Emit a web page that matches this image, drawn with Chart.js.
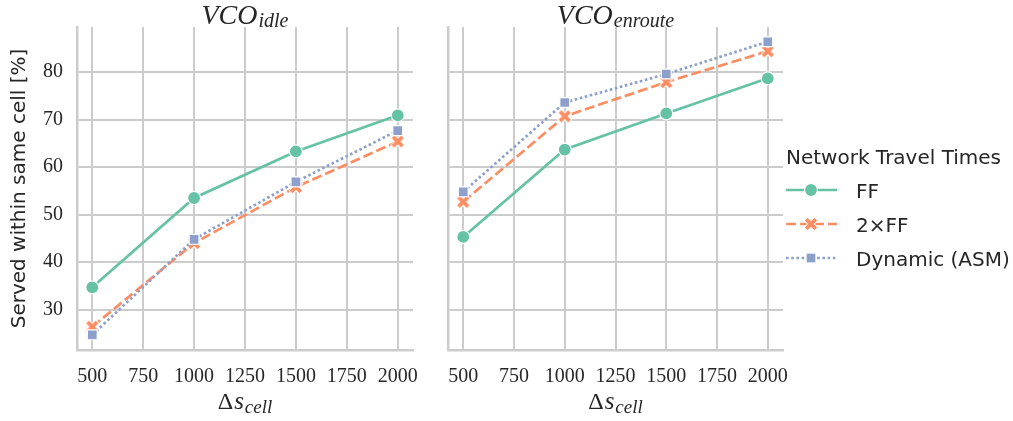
<!DOCTYPE html>
<html><head><meta charset="utf-8">
<script src="https://cdn.jsdelivr.net/npm/chart.js@4"></script>
<style>
html,body{margin:0;padding:0;background:#fff;}
#wrap{position:relative;width:1013px;height:421px;overflow:hidden;}
canvas{position:absolute;top:0;}
</style></head><body>
<div id="wrap">
<canvas id="c1" width="420" height="421" style="left:0;width:420px;height:421px"></canvas>
<canvas id="c2" width="593" height="421" style="left:420px;width:593px;height:421px"></canvas>
</div>
<script>
// ---- data ----
const xValues = [500, 1000, 1500, 2000];
const xTicks = [500, 750, 1000, 1250, 1500, 1750, 2000];
const yTicks = [30, 40, 50, 60, 70, 80];
const seriesNames = ['FF', '2×FF', 'Dynamic (ASM)'];
const idleFF = [34.7, 53.5, 63.3, 70.9];
const idle2FF = [26.4, 44.0, 55.8, 65.4];
const idleDyn = [24.7, 44.8, 56.9, 67.7];
const enrouteFF = [45.3, 63.7, 71.3, 78.7];
const enroute2FF = [52.7, 70.7, 77.9, 84.4];
const enrouteDyn = [54.8, 73.6, 79.6, 86.4];
const panelTitles = [['VCO', 'idle'], ['VCO', 'enroute']];
const xLabel = ['Δ', 's', 'cell'];
const yLabel = 'Served within same cell [%]';
const legendTitle = 'Network Travel Times';

// ---- styles ----
const colors = ['#66c2a5', '#fc8d62', '#8da0cb'];
const dashes = [[], [10, 4], [2.6, 2.6]];
const LW = 2.7;
const TEXT = '#262626';
const GRID = '#cccccc';
const SERIF = '"Liberation Serif", "DejaVu Serif", serif';
const SANS = '"DejaVu Sans", Lato, sans-serif';

function makeX(color) {
  const s = 18, c = document.createElement('canvas');
  c.width = s; c.height = s;
  const g = c.getContext('2d');
  g.translate(s / 2, s / 2);
  g.rotate(Math.PI / 4);
  const a = 7.3, w = 2.4;
  g.beginPath();
  g.moveTo(-w, -a); g.lineTo(w, -a); g.lineTo(w, -w); g.lineTo(a, -w);
  g.lineTo(a, w); g.lineTo(w, w); g.lineTo(w, a); g.lineTo(-w, a);
  g.lineTo(-w, w); g.lineTo(-a, w); g.lineTo(-a, -w); g.lineTo(-w, -w);
  g.closePath();
  g.fillStyle = color; g.fill();
  g.lineWidth = 1; g.strokeStyle = '#ffffff'; g.stroke();
  return c;
}
const xImg = makeX(colors[1]);
const pointStyles = ['circle', xImg, 'rect'];
const pointRadii = [6.5, 7, 7];

function datasets(vals) {
  return vals.map((v, i) => ({
    label: seriesNames[i],
    data: xValues.map((x, j) => ({ x: x, y: v[j] })),
    borderColor: colors[i],
    backgroundColor: colors[i],
    borderWidth: LW,
    borderDash: dashes[i],
    pointStyle: pointStyles[i],
    pointRadius: pointRadii[i],
    pointBorderColor: '#ffffff',
    pointBorderWidth: 1.2,
    tension: 0,
    order: 3 - i
  }));
}

// draws a sequence of [text, font, dy, gap] pieces centred on cx
function drawPieces(ctx, pieces, cx, base) {
  ctx.save();
  ctx.fillStyle = TEXT;
  ctx.textBaseline = 'alphabetic';
  ctx.textAlign = 'left';
  let total = 0;
  const widths = pieces.map(p => { ctx.font = p[1]; const w = ctx.measureText(p[0]).width + (p[3] || 0); total += w; return w; });
  let x = cx - total / 2;
  pieces.forEach((p, i) => { ctx.font = p[1]; ctx.fillText(p[0], x, base + p[2]); x += widths[i]; });
  ctx.restore();
}

function labelsPlugin(idx) {
  return {
    id: 'labels' + idx,
    afterDraw(chart) {
      const ctx = chart.ctx, a = chart.chartArea;
      const cx = (a.left + a.right) / 2;
      drawPieces(ctx, [
        [panelTitles[idx][0], 'italic 28px ' + SERIF, 0, 1],
        [panelTitles[idx][1], 'italic 20px ' + SERIF, 3]
      ], cx, 24);
      drawPieces(ctx, [
        [xLabel[0], '24px ' + SERIF, 0, 1],
        [xLabel[1], 'italic 25px ' + SERIF, 0, 1],
        [xLabel[2], 'italic 19px ' + SERIF, 4]
      ], cx, 409);
    }
  };
}

const legendPlugin = {
  id: 'legendCustom',
  afterDraw(chart) {
    const ctx = chart.ctx;
    const x0 = 366;
    ctx.save();
    ctx.fillStyle = TEXT;
    ctx.font = '20px ' + SANS;
    ctx.textBaseline = 'alphabetic';
    ctx.fillText(legendTitle, x0, 164);
    const ys = [190, 224, 258];
    seriesNames.forEach((n, i) => {
      const y = ys[i];
      ctx.save();
      ctx.strokeStyle = colors[i];
      ctx.lineWidth = LW;
      ctx.setLineDash(dashes[i]);
      ctx.beginPath(); ctx.moveTo(x0, y); ctx.lineTo(x0 + 51, y); ctx.stroke();
      ctx.restore();
      const mx = x0 + 25;
      ctx.save();
      if (i === 0) {
        ctx.beginPath(); ctx.arc(mx, y, pointRadii[0], 0, Math.PI * 2);
        ctx.fillStyle = colors[0]; ctx.fill();
        ctx.lineWidth = 1.2; ctx.strokeStyle = '#fff'; ctx.stroke();
      } else if (i === 1) {
        ctx.drawImage(xImg, mx - xImg.width / 2, y - xImg.height / 2);
      } else {
        const h = pointRadii[2] * Math.SQRT1_2;
        ctx.fillStyle = colors[2]; ctx.fillRect(mx - h, y - h, 2 * h, 2 * h);
        ctx.lineWidth = 1.2; ctx.strokeStyle = '#fff'; ctx.strokeRect(mx - h, y - h, 2 * h, 2 * h);
      }
      ctx.restore();
      ctx.fillStyle = TEXT;
      ctx.font = '20px ' + SANS;
      ctx.fillText(n, x0 + 70, y + 8);
    });
    ctx.restore();
  }
};

function makeChart(id, vals, idx) {
  const left = idx === 0;
  return new Chart(document.getElementById(id), {
    type: 'line',
    data: { datasets: datasets(vals) },
    options: {
      responsive: false,
      animation: false,
      devicePixelRatio: 1,
      layout: { autoPadding: false, padding: { top: 27, right: left ? 7 : 230, bottom: 0, left: 0 } },
      plugins: { legend: { display: false }, tooltip: { enabled: false } },
      scales: {
        x: {
          type: 'linear', min: 425, max: 2075,
          afterBuildTicks: s => { s.ticks = xTicks.map(v => ({ value: v })); },
          afterFit: s => { s.height = 71; s.paddingLeft = 0; s.paddingRight = 0; },
          grid: { color: GRID, lineWidth: 2, drawTicks: false },
          border: { color: GRID, width: 2.5 },
          ticks: { color: TEXT, font: { family: SERIF, size: 20 }, padding: 15, maxRotation: 0, autoSkip: false, callback: v => String(v) }
        },
        y: {
          type: 'linear', min: 21.5, max: 89.5,
          afterBuildTicks: s => { s.ticks = yTicks.map(v => ({ value: v })); },
          afterFit: s => { s.width = left ? 77 : 28; s.paddingTop = 0; s.paddingBottom = 0; },
          grid: { color: GRID, lineWidth: 2, drawTicks: false },
          border: { color: GRID, width: 2.5 },
          ticks: { display: left, color: TEXT, font: { family: SERIF, size: 20 }, padding: 14, callback: v => String(v) },
          title: { display: left, text: yLabel, color: TEXT, font: { family: SANS, size: 20 }, padding: { top: 8, bottom: 0 } }
        }
      }
    },
    plugins: left ? [labelsPlugin(0)] : [labelsPlugin(1), legendPlugin]
  });
}

makeChart('c1', [idleFF, idle2FF, idleDyn], 0);
makeChart('c2', [enrouteFF, enroute2FF, enrouteDyn], 1);
</script>
</body></html>
